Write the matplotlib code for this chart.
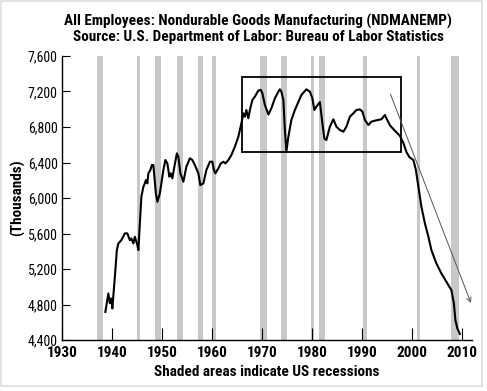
import matplotlib.pyplot as plt
from matplotlib.patches import Rectangle
from matplotlib.ticker import FuncFormatter

# employment, thousands
years = [1938.7, 1939.3, 1939.6, 1939.9, 1940.1, 1940.6, 1941.0, 1941.3, 1941.9, 1942.6,
         1943.1, 1943.6, 1943.9, 1944.3, 1944.6, 1945.1, 1945.3, 1945.6, 1945.9, 1946.3,
         1946.6, 1946.8, 1947.1, 1947.3, 1947.7, 1948.0, 1948.3, 1948.5, 1948.8, 1949.1,
         1949.6, 1950.3, 1950.7, 1951.1, 1951.5, 1951.8, 1952.1, 1952.5, 1953.0, 1953.3,
         1953.7, 1954.3, 1954.9, 1955.6, 1956.1, 1956.6, 1957.3, 1957.7, 1958.3, 1958.9,
         1959.6, 1960.1, 1960.4, 1960.7, 1961.3, 1961.8, 1962.3, 1962.7, 1963.3, 1963.9,
         1964.6, 1965.3, 1965.9, 1966.3, 1966.6, 1966.9, 1967.3, 1967.6, 1968.1, 1968.6,
         1969.3, 1969.8, 1970.1, 1970.6, 1971.3, 1971.9, 1972.6, 1973.3, 1973.6, 1973.9,
         1974.3, 1974.6, 1974.9, 1975.3, 1975.9, 1976.6, 1977.9, 1978.9, 1979.6, 1980.1,
         1980.5, 1980.9, 1981.6, 1982.1, 1982.5, 1982.9, 1983.6, 1984.3, 1984.9, 1985.6,
         1986.3, 1986.9, 1987.6, 1988.3, 1988.9, 1989.6, 1990.1, 1990.6, 1991.3, 1991.9,
         1992.6, 1993.3, 1993.9, 1994.6, 1994.9, 1995.6, 1996.3, 1996.9, 1997.6, 1998.3,
         1998.9, 1999.5, 2000.3, 2000.8, 2001.3, 2001.9, 2002.6, 2003.3, 2003.9, 2004.9,
         2005.9, 2006.9, 2007.9, 2008.4, 2008.7, 2009.1, 2009.6]
employees = [4718, 4926, 4816, 4870, 4757, 5113, 5414, 5489, 5526, 5602,
             5602, 5526, 5545, 5489, 5564, 5470, 5414, 5715, 6014, 6127,
             6165, 6202, 6165, 6278, 6315, 6372, 6372, 6240, 6053, 5958,
             6053, 6315, 6428, 6390, 6240, 6278, 6222, 6353, 6503, 6465,
             6278, 6184, 6353, 6447, 6428, 6372, 6278, 6146, 6165, 6315,
             6409, 6409, 6315, 6278, 6334, 6390, 6409, 6390, 6428, 6484,
             6578, 6691, 6841, 6954, 6916, 6991, 6898, 6991, 7104, 7142,
             7210, 7217, 7180, 7048, 6940, 7010, 7123, 7198, 7224, 7198,
             7104, 6766, 6522, 6691, 6879, 6991, 7160, 7224, 7198, 7123,
             6991, 7029, 7080, 6841, 6670, 6653, 6803, 6887, 6803, 6766,
             6747, 6803, 6916, 6954, 6991, 6998, 6973, 6879, 6822, 6860,
             6871, 6879, 6887, 6935, 6898, 6820, 6775, 6740, 6700, 6620,
             6520, 6460, 6428, 6315, 6127, 5902, 5715, 5564, 5414, 5264,
             5151, 5057, 4963, 4813, 4625, 4530, 4470]

rec_start = [1937.0, 1945.0, 1948.6, 1953.1, 1957.3, 1960.1, 1969.6, 1973.8, 1979.8, 1981.5, 1990.3, 2001.0, 2007.8]
rec_end = [1938.2, 1945.6, 1949.8, 1954.3, 1958.3, 1960.8, 1971.0, 1975.0, 1980.5, 1982.6, 1991.0, 2001.7, 2009.4]

yticks = [4400, 4800, 5200, 5600, 6000, 6400, 6800, 7200, 7600]
xticks = [1930, 1940, 1950, 1960, 1970, 1980, 1990, 2000, 2010]

plt.rcParams['font.family'] = ['Roboto Condensed', 'DejaVu Sans']
plt.rcParams['font.stretch'] = 'condensed'

fig = plt.figure(figsize=(4.87, 3.91), dpi=100)
ax = fig.add_axes([0.127, 0.130, 0.842, 0.727])

for s, e in zip(rec_start, rec_end):
    ax.axvspan(s, e, color='#c8c8c8', lw=0, zorder=1)

ax.plot(years, employees, color='black', lw=1.5, zorder=3)

# highlighted plateau
ax.add_patch(Rectangle((1966.1, 6520), 1997.8 - 1966.1, 7365 - 6520,
                       fill=False, ec='black', lw=1.3, zorder=4))
# trend arrow
ax.annotate('', xy=(2012.0, 4790), xytext=(1995.5, 7200),
            arrowprops=dict(arrowstyle='->', color='#555555', lw=0.7,
                            mutation_scale=8), zorder=4)

ax.set_xlim(1930, 2012)
ax.set_ylim(4400, 7600)
ax.set_xticks(xticks)
ax.set_yticks(yticks)
ax.yaxis.set_major_formatter(FuncFormatter(lambda v, p: f'{int(v):,}'))
ax.tick_params(axis='y', direction='in', length=6, width=0.8, pad=3, labelsize=10)
ax.tick_params(axis='x', direction='in', length=9, width=0.8, pad=4, labelsize=11)
for lab in ax.get_xticklabels():
    lab.set_fontweight('bold')

for side in ['top', 'right']:
    ax.spines[side].set_visible(False)
for side in ['left', 'bottom']:
    ax.spines[side].set_linewidth(1.0)

ax.set_ylabel('(Thousands)', fontsize=11, fontweight='bold', labelpad=2)
ax.set_xlabel('Shaded areas indicate US recessions', fontsize=11, fontweight='bold', labelpad=4)

fig.text(0.53, 0.965, 'All Employees: Nondurable Goods Manufacturing (NDMANEMP)\n'
         'Source: U.S. Department of Labor: Bureau of Labor Statistics',
         ha='center', va='top', fontsize=11, fontweight='bold', linespacing=1.15)

fig.patches.append(Rectangle((0.002, 0.012), 0.988, 0.985, transform=fig.transFigure,
                             fill=False, ec='#dddddd', lw=1.2))

fig.savefig('out.png', dpi=100)
